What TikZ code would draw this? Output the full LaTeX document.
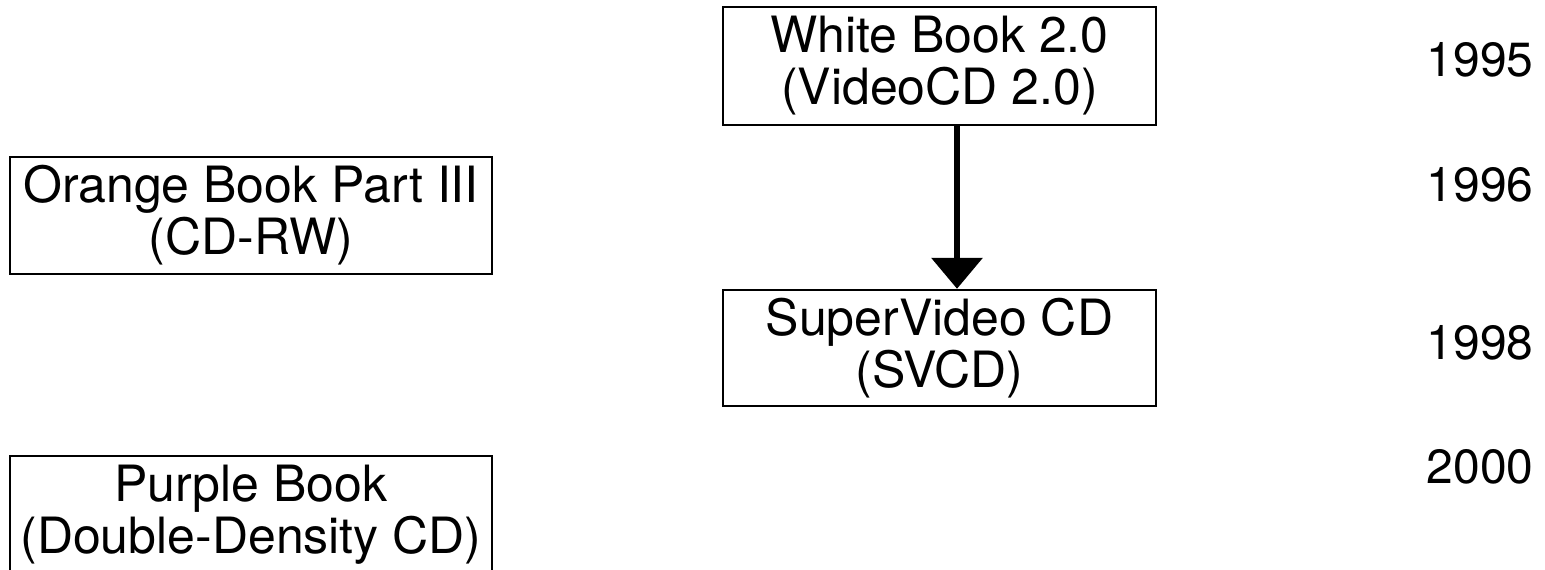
\documentclass[tikz,border=0pt]{standalone}
\usepackage{fontspec}
\setmainfont{TeX Gyre Heros}
\usetikzlibrary{arrows.meta}

\begin{document}
\begin{tikzpicture}[x=0.5pt, y=-0.5pt,
    book/.style={draw, line width=1.2pt, align=center, inner sep=0pt,
      font=\fontsize{25}{26}\selectfont},
    year/.style={font=\fontsize{24}{28}\selectfont},
    flow/.style={line width=3.4pt, -{Triangle[width=25pt, length=15.5pt]}}]
        \useasboundingbox (0,0) rectangle (1545,569);
        % the two video standards
        \node[book, minimum width=216.5pt, minimum height=59pt] (white) at (939.5,66)
          {White Book 2.0\\(VideoCD 2.0)};
        \node[book, minimum width=216.5pt, minimum height=58pt] (svcd) at (939.5,348)
          {SuperVideo CD\\(SVCD)};
        % the other books
        \node[book, minimum width=241pt, minimum height=58.5pt] (orange) at (251,215.5)
          {Orange Book Part III\\(CD-RW)};
        \node[book, minimum width=241pt, minimum height=58.5pt] (purple) at (251,514.5)
          {Purple Book\\(Double-Density CD)};
        \draw[flow] ([xshift=8.75pt]white.south) -- ([xshift=8.75pt]svcd.north);
        \foreach \yr/\y in {1995/60, 1996/185, 1998/343, 2000/467}{
        \node[year] (y\yr) at (1480,\y) {\yr};
        }
      \end{tikzpicture}
\end{document}
